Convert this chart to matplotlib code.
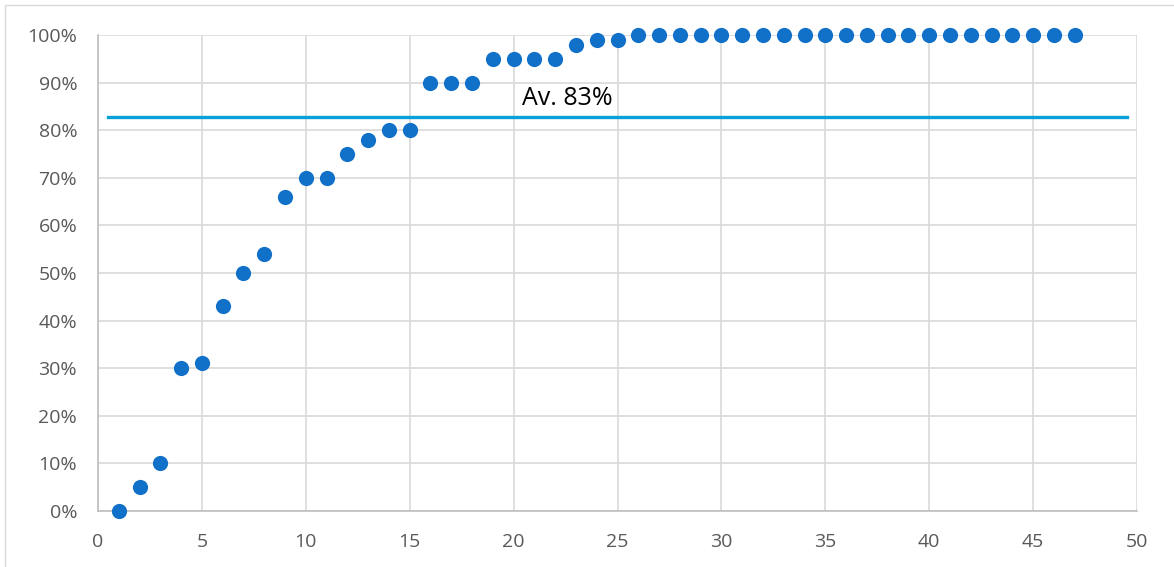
import matplotlib
matplotlib.use("Agg")
import matplotlib.pyplot as plt
from matplotlib.ticker import FuncFormatter, MultipleLocator
from matplotlib.patches import Rectangle

x_vals = list(range(1, 48))
y_vals = [0, 5, 10, 30, 31, 43, 50, 54, 66, 70, 70, 75, 78, 80, 80,
          90, 90, 90, 95, 95, 95, 95, 98, 99, 99] + [100] * 22
avg_value = 82.7
avg_label = "Av. 83%"

plt.rcParams['font.family'] = ['Open Sans', 'DejaVu Sans']

fig = plt.figure(figsize=(11.74, 5.67), dpi=100)
# chart frame border
fig.add_artist(Rectangle((5 / 1174, -0.1), 1.2, 1.1 - 5 / 567, transform=fig.transFigure,
                         fill=False, edgecolor='#D9D9D9', linewidth=1.0))
ax = fig.add_axes([98 / 1174, (567 - 511) / 567, (1137 - 98) / 1174, (511 - 35) / 567])

ax.set_xlim(0, 50)
ax.set_ylim(0, 100)
ax.xaxis.set_major_locator(MultipleLocator(5))
ax.yaxis.set_major_locator(MultipleLocator(10))
ax.yaxis.set_major_formatter(FuncFormatter(lambda v, p: f"{int(round(v))}%"))
ax.grid(True, color='#D9D9D9', linewidth=1.2)
ax.set_axisbelow(True)
for s in ['top', 'right']:
    ax.spines[s].set_visible(False)
for s in ['left', 'bottom']:
    ax.spines[s].set_color('#BFBFBF')
    ax.spines[s].set_linewidth(1.2)
ax.tick_params(length=0, labelsize=14, colors='#595959')
ax.tick_params(axis='x', pad=16)
ax.tick_params(axis='y', pad=15)

ax.plot([0.5, 49.5], [avg_value, avg_value], color='#0AA0DA', linewidth=2.4, zorder=2)
ax.scatter(x_vals, y_vals, s=120, color='#1170C8', zorder=3, clip_on=False, linewidths=0)
ax.text(20.4, 85.3, avg_label, fontsize=18, color='black', ha='left', va='baseline')

fig.savefig("out.png", dpi=100)
